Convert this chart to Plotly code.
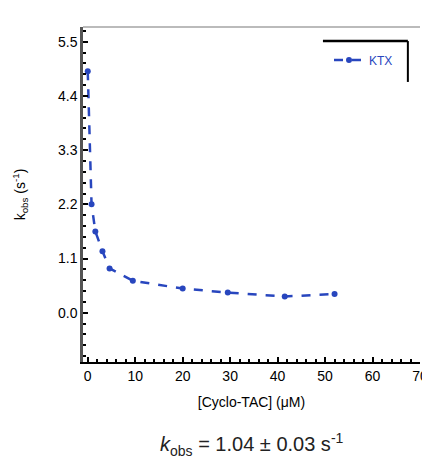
import plotly.graph_objects as go

conc = [0, 0.8, 1.6, 3.1, 4.6, 9.5, 20, 29.5, 41.5, 52]
kobs = [4.9, 2.2, 1.65, 1.25, 0.9, 0.65, 0.49, 0.41, 0.33, 0.38]
series_name = "KTX"
x_ticks = [0, 10, 20, 30, 40, 50, 60, 70]
y_ticks = [0.0, 1.1, 2.2, 3.3, 4.4, 5.5]
y_tick_text = ["0.0", "1.1", "2.2", "3.3", "4.4", "5.5"]

blue = "rgb(40,70,190)"

fig = go.Figure()
fig.add_trace(go.Scatter(
    x=conc, y=kobs, mode="lines+markers", name=series_name,
    line=dict(color=blue, width=2.5, dash="dash"),
    marker=dict(color=blue, size=6, symbol="circle"),
))

fig.update_layout(
    width=430, height=461,
    margin=dict(l=75, r=18, t=19, b=107, autoexpand=False),
    paper_bgcolor="white", plot_bgcolor="white",
    font=dict(family="Liberation Sans, Arial, sans-serif", color="black", size=13),
    showlegend=True,
    legend=dict(x=0.73, y=0.945, xanchor="left", yanchor="top",
                bgcolor="rgba(0,0,0,0)", font=dict(size=12, color=blue),
                itemwidth=30, tracegroupgap=0),
    xaxis=dict(range=[-1, 70], tickvals=x_ticks, showgrid=False, zeroline=False,
               automargin=False, tickfont=dict(size=14),
               showline=True, linecolor="black", linewidth=2,
               ticks="inside", ticklen=5, tickwidth=1.5, tickcolor="black",
               minor=dict(dtick=2, ticks="inside", ticklen=3, tickcolor="black"),
               title=dict(text="[Cyclo-TAC] (μM)", font=dict(size=14), standoff=14)),
    yaxis=dict(range=[-1.0, 5.8], tickvals=y_ticks, ticktext=y_tick_text,
               showgrid=False, zeroline=False, automargin=False, tickfont=dict(size=14),
               showline=True, linecolor="#555", linewidth=2.5,
               ticks="inside", ticklen=5, tickwidth=1.5, tickcolor="black",
               minor=dict(dtick=0.22, ticks="inside", ticklen=3, tickcolor="black"),
               title=dict(text="k<sub>obs</sub> (s<sup>-1</sup>)", font=dict(size=14), standoff=30)),
    shapes=[
        dict(type="line", xref="paper", yref="paper", x0=0, x1=1, y0=1, y1=1,
             line=dict(color="#bbbbbb", width=2)),
        dict(type="line", xref="paper", yref="paper", x0=0.712, x1=0.964, y0=0.958, y1=0.958,
             line=dict(color="black", width=2.5)),
        dict(type="line", xref="paper", yref="paper", x0=0.964, x1=0.964, y0=0.958, y1=0.836,
             line=dict(color="black", width=2)),
    ],
    annotations=[
        dict(text="<i>k</i><sub>obs</sub> = 1.04 ± 0.03 s<sup>-1</sup>", xref="paper", yref="paper",
             x=0.5, y=-0.245, xanchor="center", yanchor="middle", showarrow=False,
             font=dict(size=20, color="#222")),
    ],
)

fig.write_html("out.html")
